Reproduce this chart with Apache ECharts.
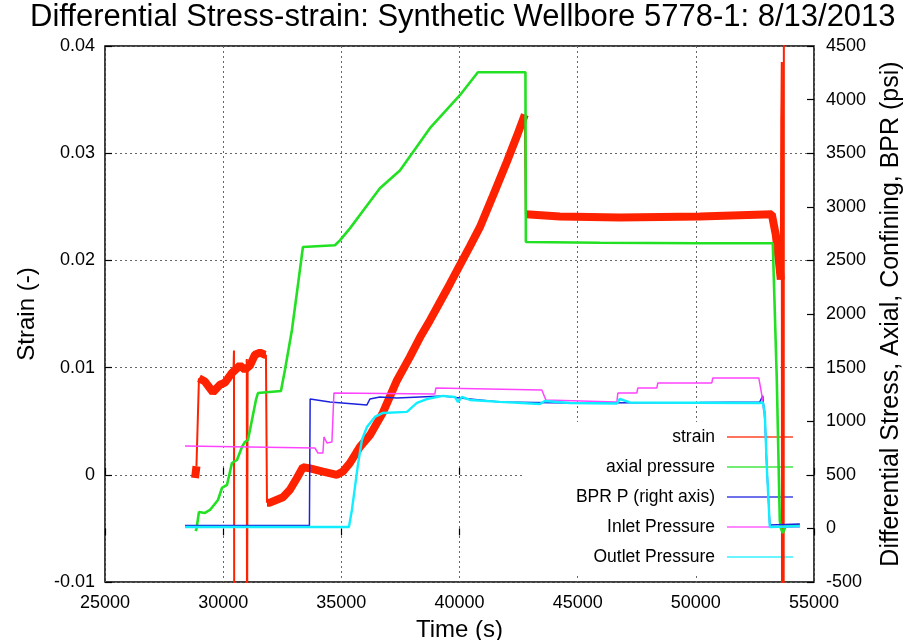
<!DOCTYPE html>
<html>
<head>
<meta charset="utf-8">
<script src="https://cdn.jsdelivr.net/npm/echarts@6/dist/echarts.min.js"></script>
<style>html,body{margin:0;padding:0;background:#fff}#c{width:903px;height:640px}</style>
</head>
<body>
<div id="c"></div>
<script>
// ---- tick labels / axis ranges ----
const xTicks = [25000, 30000, 35000, 40000, 45000, 50000, 55000];
const strainTicks = [-0.01, 0, 0.01, 0.02, 0.03, 0.04];
const psiTicks = [-500, 0, 500, 1000, 1500, 2000, 2500, 3000, 3500, 4000, 4500];

const titleText = 'Differential Stress-strain: Synthetic Wellbore 5778-1: 8/13/2013';
const seriesNames = ['strain', 'axial pressure', 'BPR P (right axis)', 'Inlet Pressure', 'Outlet Pressure'];

// ---- strain (left axis): noisy band parts ----
const strainBand = [
  [28810, -0.0003], [28870, 0.0008], [28900, null],
  [28976, 0.0090], [29230, 0.0087], [29568, 0.0077], [29865, 0.0084], [30076, 0.0086], [30372, 0.0095],
  [30711, 0.0102], [30922, 0.0098], [31134, 0.0102], [31345, 0.0112], [31557, 0.0114], [31768, 0.0112], [31810, 0.0112], [31830, null],
  [31853, -0.0026], [31980, -0.0026], [32529, -0.0021], [32826, -0.0014], [33122, -0.0003], [33375, 0.0007], [33672, 0.0006],
  [34221, 0.0003], [34814, 0.0000], [35067, 0.0003], [35364, 0.0011], [35787, 0.0026], [36210, 0.0037], [36759, 0.0058],
  [37352, 0.0088], [37902, 0.0110], [38325, 0.0128], [38748, 0.0144], [39171, 0.0161], [39594, 0.0178], [40101, 0.0199],
  [40440, 0.0213], [40863, 0.0231], [41412, 0.0260], [42005, 0.0292], [42428, 0.0316], [42766, 0.0336], [42790, null],
  [42808, 0.0243], [44247, 0.0241], [46785, 0.0240], [50169, 0.0241], [53214, 0.0243], [53383, 0.0224], [53510, 0.0200], [53595, 0.0182]
];
// ---- strain: thin jumps and spikes ----
const strainSpikes = [
  [28870, 0.0008], [28976, 0.0090], [29000, null],
  [30440, 0.0100], [30457, 0.0116], [30470, -0.02], [30480, null],
  [30990, 0.0105], [31000, 0.0108], [31010, -0.02], [31025, -0.02], [31035, 0.0100], [31040, null],
  [31810, 0.0112], [31853, -0.0026], [31900, null],
  [42766, 0.0336], [42808, 0.0243], [42850, null],
  [53595, 0.0182], [53615, 0.0330], [53625, 0.0350], [53637, 0.0385], [53647, -0.02], [53680, null],
  [53715, -0.02], [53725, 0.045]
];

// ---- pressures (right axis, psi) ----
const axialP = [
  [28830, -25], [28870, -5], [28976, 153], [29230, 144], [29442, 172], [29780, 265], [29949, 377], [30161, 405],
  [30372, 610], [30584, 638], [30795, 760], [30922, 806], [31049, 825], [31260, 1058], [31387, 1198], [31472, 1263],
  [32445, 1282], [32614, 1478], [32910, 1851], [33164, 2271], [33375, 2625], [34729, 2641], [34941, 2687],
  [35364, 2799], [35998, 2986], [36633, 3173], [37479, 3339], [38748, 3733], [40017, 4041], [40778, 4255],
  [42790, 4255], [42808, 2672], [45939, 2665], [50169, 2660], [53256, 2660], [53426, 1385], [53552, 78],
  [53595, 4], [53680, -43], [53806, 22], [54399, 32]
];
const bprP = [
  [28384, 28], [33650, 28], [33680, 1207], [34518, 1180], [36083, 1152], [36210, 1207], [36633, 1226], [37352, 1217],
  [39297, 1236], [40017, 1217], [41709, 1180], [44670, 1170], [50169, 1175], [52707, 1180], [52833, 1236], [52850, 1180],
  [52918, 1077], [53003, 573], [53130, 32], [54399, 40]
];
const inletP = [
  [28384, 769], [33883, 750], [34010, 703], [34221, 703], [34264, 853], [34391, 797], [34602, 806], [34687, 1263],
  [38959, 1254], [39001, 1310], [43485, 1291], [43654, 1198], [46658, 1180], [46700, 1263], [47504, 1263], [47546, 1310],
  [48350, 1310], [48392, 1357], [50676, 1357], [50718, 1404], [52664, 1404], [52791, 1245], [52918, 1012], [53003, 573],
  [53130, 13], [54399, 13]
];
const outletP = [
  [28384, 13], [35321, 13], [35448, 172], [35702, 592], [35871, 825], [36083, 946], [36421, 1040], [36759, 1077],
  [37775, 1087], [38198, 1170], [38621, 1207], [39297, 1236], [39805, 1226], [39932, 1180], [40101, 1226], [40440, 1198],
  [41709, 1180], [43400, 1161], [43612, 1189], [44670, 1170], [46658, 1165], [46785, 1207], [47208, 1175], [52707, 1170],
  [52833, 1175], [52918, 1077], [53003, 573], [53130, 13], [54399, 20]
];

const colors = ['#ff2200', '#22e022', '#1a22dd', '#ff44ff', '#11eeff'];
const FONT = 'Liberation Sans';

const chart = echarts.init(document.getElementById('c'), null, {renderer: 'canvas'});

function axisCommon() {
  return {
    axisLine: {show: false},
    axisTick: {show: true, inside: true, length: 7, lineStyle: {color: '#000', width: 1.2}},
    nameTextStyle: {color: '#000', fontSize: 24, fontFamily: FONT}
  };
}
const plain = v => String(Math.round(v * 1000) / 1000);
const grid = {left: 105, right: 89, top: 46, bottom: 58, show: true, borderColor: '#000', borderWidth: 1.5,
  backgroundColor: 'transparent', containLabel: false, outerBoundsMode: 'none'};
const dotted = {show: true, lineStyle: {color: '#666', type: [2, 3], width: 1}};

function lineSeries(name, data, color, width, yIdx, z) {
  return {
    name: name, type: 'line', data: data, yAxisIndex: yIdx, xAxisIndex: 0,
    showSymbol: false, symbol: 'none', connectNulls: false, animation: false,
    lineStyle: {color: color, width: width}, itemStyle: {color: color}, z: z,
    emphasis: {disabled: true}
  };
}

chart.setOption({
  animation: false,
  textStyle: {fontFamily: FONT},
  title: {
    text: titleText, left: 30, top: 2, padding: 0,
    textStyle: {fontSize: 31, fontWeight: 'normal', color: '#000', fontFamily: FONT}
  },
  grid: grid,
  legend: {
    orient: 'vertical', right: 97, top: 422, z: 1,
    align: 'right', icon: 'rect', itemWidth: 66, itemHeight: 1.5, itemGap: 10,
    backgroundColor: '#fff', padding: [5, 13, 7, 54],
    selectedMode: false,
    textStyle: {fontSize: 17.5, color: '#000', fontFamily: FONT, lineHeight: 20, padding: [0, 7, 0, 0]},
    data: seriesNames.map((n, i) => ({name: n, itemStyle: {color: colors[i], opacity: 0.85}}))
  },
  xAxis: [
    Object.assign(axisCommon(), {
      type: 'value', position: 'bottom', min: xTicks[0], max: xTicks[xTicks.length - 1], interval: xTicks[1] - xTicks[0],
      name: 'Time (s)', nameLocation: 'middle', nameGap: 36, splitLine: dotted,
      axisLabel: {color: '#000', fontSize: 18, fontFamily: FONT, margin: 12, formatter: plain}
    }),
    Object.assign(axisCommon(), {
      type: 'value', position: 'top', min: xTicks[0], max: xTicks[xTicks.length - 1], interval: xTicks[1] - xTicks[0],
      axisLabel: {show: false}, splitLine: {show: false}
    })
  ],
  yAxis: [
    Object.assign(axisCommon(), {
      type: 'value', position: 'left', min: strainTicks[0], max: strainTicks[strainTicks.length - 1],
      interval: strainTicks[1] - strainTicks[0], name: 'Strain (-)', nameLocation: 'middle', nameGap: 66,
      splitLine: dotted,
      axisLabel: {color: '#000', fontSize: 18, fontFamily: FONT, margin: 10, formatter: plain}
    }),
    Object.assign(axisCommon(), {
      type: 'value', position: 'right', min: psiTicks[0], max: psiTicks[psiTicks.length - 1],
      interval: psiTicks[1] - psiTicks[0], name: 'Differential Stress, Axial, Confining, BPR (psi)',
      nameLocation: 'middle', nameGap: 65, splitLine: {show: false},
      nameTextStyle: {color: '#000', fontSize: 25, fontFamily: FONT},
      axisLabel: {color: '#000', fontSize: 18, fontFamily: FONT, margin: 12, formatter: plain}
    })
  ],
  series: [
    lineSeries(seriesNames[0], strainBand, colors[0], 8, 0, 2),
    lineSeries(seriesNames[0], strainSpikes, colors[0], 2, 0, 2),
    lineSeries(seriesNames[1], axialP, colors[1], 2.6, 1, 3),
    lineSeries(seriesNames[2], bprP, colors[2], 1.5, 1, 4),
    lineSeries(seriesNames[3], inletP, colors[3], 1.5, 1, 5),
    lineSeries(seriesNames[4], outletP, colors[4], 2.4, 1, 6)
  ]
});
</script>
</body>
</html>
